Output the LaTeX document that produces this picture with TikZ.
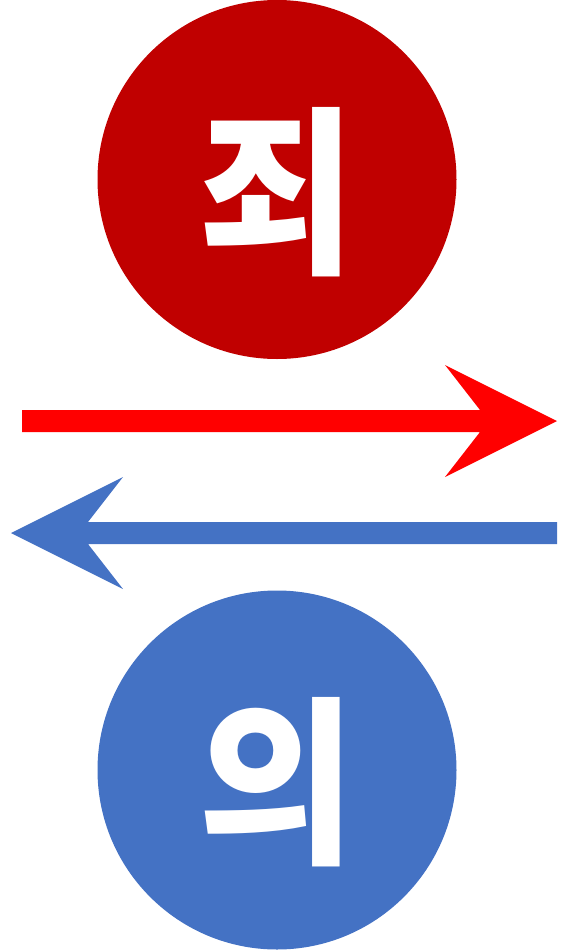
\documentclass[tikz,border=0pt]{standalone}
\usepackage{fontspec}
\newfontfamily\krfont{Noto Sans CJK KR}[UprightFont=* Black]
\usetikzlibrary{positioning}
\definecolor{koyuKirmizi}{HTML}{C00000}
\definecolor{okKirmizi}{HTML}{FF0000}
\definecolor{okMavi}{HTML}{4472C4}

\begin{document}
\begin{tikzpicture}[x=1pt,y=-1pt,
  daire/.style={circle,minimum size=359pt,inner sep=0pt},
  hece/.style={text=white,font=\krfont\fontsize{180}{180}\selectfont}]
\useasboundingbox (0,0) rectangle (560,950);
% daireler
\node[daire,fill=koyuKirmizi] (joe) at (277,179.5) {};
\node[daire,fill=okMavi] (ui) at (277,770) {};
\node[hece,xscale=0.95] (joeYazi) at ([yshift=-13pt]joe.center) {죄};
\node[hece,xscale=0.95] (uiYazi) at ([yshift=-12pt]ui.center) {의};
% oklar
\fill[okKirmizi] (22,410)--(480,410)--(445,365)--(557,421)--(445,477)--(480,432)--(22,432)--cycle;
\fill[okMavi] (557,522)--(88,522)--(123,477)--(11,533)--(123,589)--(88,544)--(557,544)--cycle;
\end{tikzpicture}
\end{document}
